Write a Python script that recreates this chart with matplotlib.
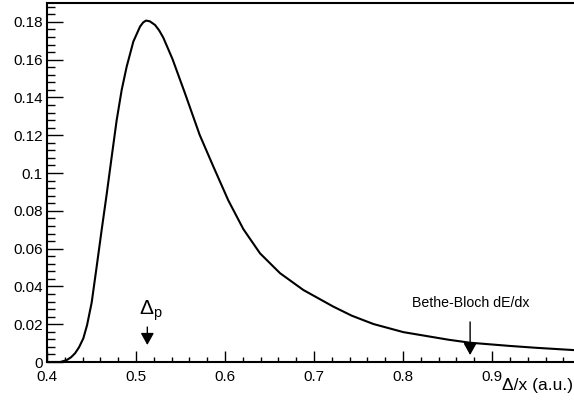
import matplotlib
matplotlib.use("Agg")
import matplotlib.pyplot as plt
from matplotlib.ticker import MultipleLocator, FuncFormatter

plt.rcParams['font.family'] = ['Liberation Sans', 'DejaVu Sans']
plt.rcParams['mathtext.fontset'] = 'custom'
plt.rcParams['mathtext.rm'] = 'Liberation Sans'
plt.rcParams['mathtext.it'] = 'Liberation Sans'

# energy loss distribution
delta_x = [0.400, 0.415, 0.4221, 0.427, 0.4315, 0.436, 0.4408, 0.445, 0.4502, 0.4558,
           0.4614, 0.4671, 0.4727, 0.4783, 0.4839, 0.4895, 0.497, 0.5045, 0.508, 0.5112,
           0.5155, 0.5213, 0.526, 0.5307, 0.541, 0.555, 0.5715, 0.5869, 0.6037, 0.6206,
           0.6393, 0.6618, 0.688, 0.7217, 0.7424, 0.7667, 0.8004, 0.8509, 0.8753, 0.920,
           0.950, 0.992]
prob = [0.0, 0.0, 0.001, 0.0025, 0.0046, 0.0078, 0.0125, 0.0195, 0.0315, 0.0505,
        0.0699, 0.089, 0.1087, 0.1281, 0.144, 0.1563, 0.1696, 0.1775, 0.1797, 0.1807,
        0.1803, 0.1784, 0.1755, 0.1716, 0.1603, 0.1422, 0.1202, 0.1034, 0.0855, 0.0703,
        0.0575, 0.047, 0.0381, 0.0293, 0.0245, 0.0201, 0.0158, 0.0118, 0.0102, 0.0085,
        0.0075, 0.0063]

most_probable = 0.5127
bethe_bloch = 0.8753

fig = plt.figure(figsize=(5.74, 4.01), dpi=100)
ax = fig.add_axes([47 / 574, 39 / 401, 527 / 574, 359 / 401])

ax.plot(delta_x, prob, color='black', lw=1.5, solid_joinstyle='round')

ax.set_xlim(0.4, 0.992)
ax.set_ylim(0, 0.19)

ax.xaxis.set_major_locator(MultipleLocator(0.1))
ax.xaxis.set_minor_locator(MultipleLocator(0.02))
ax.yaxis.set_major_locator(MultipleLocator(0.02))
ax.yaxis.set_minor_locator(MultipleLocator(0.004))
fmt = FuncFormatter(lambda v, p: '%g' % round(v, 3))
ax.xaxis.set_major_formatter(fmt)
ax.yaxis.set_major_formatter(fmt)

ax.tick_params(axis='both', which='both', direction='in', labelsize=11, width=1)
ax.tick_params(axis='x', which='major', length=7.8, pad=6)
ax.tick_params(axis='x', which='minor', length=3.9)
ax.tick_params(axis='y', which='major', length=11.5, pad=3)
ax.tick_params(axis='y', which='minor', length=5.8)

ax.spines['right'].set_visible(False)
for s in ['left', 'bottom', 'top']:
    ax.spines[s].set_linewidth(1.5)

arrow = dict(arrowstyle='-|>,head_length=0.72,head_width=0.4', color='black',
             lw=1, shrinkA=0, shrinkB=0, mutation_scale=10)
ax.annotate('', xy=(most_probable, 0.009), xytext=(most_probable, 0.0185),
            arrowprops=arrow)
ax.text(0.5034, 0.0249, r'$\Delta_{\mathrm{p}}$', fontsize=15, ha='left', va='baseline')

ax.annotate('', xy=(bethe_bloch, 0.0037), xytext=(bethe_bloch, 0.0212),
            arrowprops=arrow)
ax.text(0.876, 0.029, 'Bethe-Bloch dE/dx', fontsize=10.2, ha='center', va='baseline')

fig.text(0.999, 11 / 401, 'Δ/x (a.u.)', fontsize=12.5, ha='right', va='baseline')

fig.savefig('out.png', dpi=100)
